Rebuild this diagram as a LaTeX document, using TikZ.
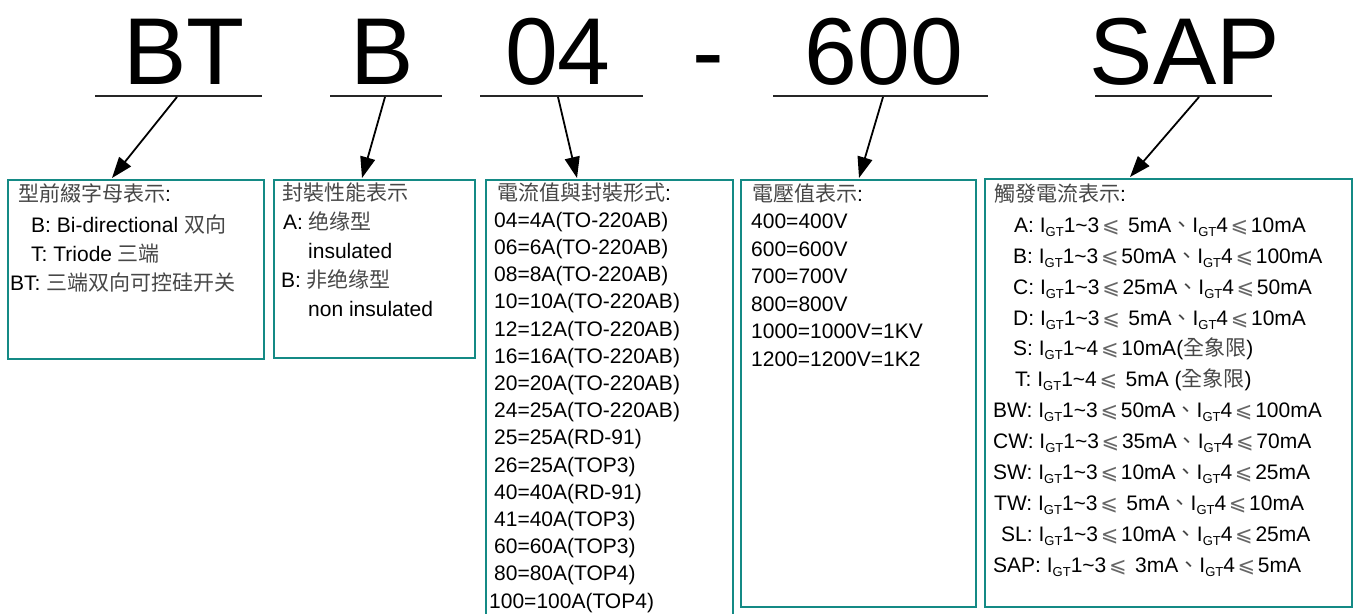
\documentclass[tikz,border=0pt]{standalone}
\usepackage{fontspec}
\setmainfont{Liberation Sans}
\newfontfamily\cjkf{Noto Sans CJK TC}
\newfontfamily\dvs{DejaVu Sans}
\usetikzlibrary{arrows.meta}
\definecolor{boxteal}{RGB}{20,138,133}
\newcommand\cjk{\cjkf\color{black!72}}
\newcommand\IGT{I\raisebox{-4.5pt}{\fontsize{13}{13}\selectfont GT}}
\newcommand\myle{\makebox[23pt]{\dvs\color{black!60}⩽}}
\newcommand\dun{{\cjk 、}}
\newcommand\tld{\textasciitilde}
\tikzset{
  txt/.style={anchor=base west, inner sep=0pt, font=\fontsize{21}{21}\selectfont},
  big/.style={anchor=base, inner sep=0pt, font=\fontsize{95}{95}\selectfont},
  box/.style={draw=boxteal, line width=2.3pt, anchor=north west, inner sep=0pt},
  uline/.style={draw=black!85, line width=2pt},
  arr/.style={draw=black, line width=1.8pt, -{Triangle[length=21pt,width=15pt]}},
}
\begin{document}
\begin{tikzpicture}[x=1pt,y=-1pt]
\useasboundingbox[fill=white] (0,0) rectangle (1356,613);

% big code letters
\node[big] (lBT) at (184,84) {BT};
\node[big] (lB) at (382,84) {B};
\node[big] (l04) at (558,84) {04};
\node[big] (ldash) at (708,84) {-};
\node[big] (l600) at (884,84) {600};
\node[big] (lSAP) at (1185,84) {SAP};

% underlines
\coordinate (u1a) at (95,96);   \coordinate (u1b) at (262,96);
\coordinate (u2a) at (330,96);  \coordinate (u2b) at (442,96);
\coordinate (u3a) at (480,96);  \coordinate (u3b) at (643,96);
\coordinate (u4a) at (773,96);  \coordinate (u4b) at (988,96);
\coordinate (u5a) at (1095,96); \coordinate (u5b) at (1272,96);
\draw[uline] (u1a) -- (u1b);
\draw[uline] (u2a) -- (u2b);
\draw[uline] (u3a) -- (u3b);
\draw[uline] (u4a) -- (u4b);
\draw[uline] (u5a) -- (u5b);

% boxes
\node[box, minimum width=256pt, minimum height=179pt] (b1) at (7,179) {};
\node[box, minimum width=201pt, minimum height=178pt] (b2) at (273,179) {};
\node[box, minimum width=247pt, minimum height=470pt] (b3) at (485,179) {};
\node[box, minimum width=235pt, minimum height=427pt] (b4) at (740,179) {};
\node[box, minimum width=367pt, minimum height=428pt] (b5) at (984,178) {};

% arrows
\coordinate (s1) at (177,97);  \coordinate (e1) at (112,178);
\coordinate (s2) at (385,97);  \coordinate (e2) at (362,178);
\coordinate (s3) at (558,97);  \coordinate (e3) at (577,178);
\coordinate (s4) at (883,97);  \coordinate (e4) at (859,178);
\coordinate (s5) at (1199,97); \coordinate (e5) at (1130,177);
\draw[arr] (s1) -- (e1);
\draw[arr] (s2) -- (e2);
\draw[arr] (s3) -- (e3);
\draw[arr] (s4) -- (e4);
\draw[arr] (s5) -- (e5);

% box 1
\node[txt] (t1a) at (18,201) {{\cjk 型前綴字母表示}:};
\node[txt] (t1b) at (31,232) {B: Bi-directional {\cjk 双向}};
\node[txt] (t1c) at (31,261) {T: Triode {\cjk 三端}};
\node[txt] (t1d) at (10,290) {BT: {\cjk 三端双向可控硅开关}};

% box 2
\node[txt] (t2a) at (282,200) {{\cjk 封裝性能表示}};
\node[txt] (t2b) at (283,229) {A: {\cjk 绝缘型}};
\node[txt] (t2c) at (308,258) {insulated};
\node[txt] (t2d) at (281,287) {B: {\cjk 非绝缘型}};
\node[txt] (t2e) at (308,316) {non insulated};

% box 3
\node[txt] (t3a) at (497,200) {{\cjk 電流值與封裝形式}:};
\node[txt] (t3b) at (494,227.2) {04=4A(TO-220AB)};
\node[txt] (t3c) at (494,254.4) {06=6A(TO-220AB)};
\node[txt] (t3d) at (494,281.6) {08=8A(TO-220AB)};
\node[txt] (t3e) at (494,308.8) {10=10A(TO-220AB)};
\node[txt] (t3f) at (494,336) {12=12A(TO-220AB)};
\node[txt] (t3g) at (494,363.2) {16=16A(TO-220AB)};
\node[txt] (t3h) at (494,390.4) {20=20A(TO-220AB)};
\node[txt] (t3i) at (494,417.6) {24=25A(TO-220AB)};
\node[txt] (t3j) at (494,444.8) {25=25A(RD-91)};
\node[txt] (t3k) at (494,472) {26=25A(TOP3)};
\node[txt] (t3l) at (494,499.2) {40=40A(RD-91)};
\node[txt] (t3m) at (494,526.4) {41=40A(TOP3)};
\node[txt] (t3n) at (494,553.6) {60=60A(TOP3)};
\node[txt] (t3o) at (494,580.8) {80=80A(TOP4)};
\node[txt] (t3p) at (489,608) {100=100A(TOP4)};

% box 4
\node[txt] (t4a) at (752,201) {{\cjk 電壓值表示}:};
\node[txt] (t4b) at (751,228) {400=400V};
\node[txt] (t4c) at (751,256) {600=600V};
\node[txt] (t4d) at (751,283) {700=700V};
\node[txt] (t4e) at (751,311) {800=800V};
\node[txt] (t4f) at (751,338) {1000=1000V=1KV};
\node[txt] (t4g) at (751,366) {1200=1200V=1K2};

% box 5
\node[txt] (t5a) at (994,201) {{\cjk 觸發電流表示}:};
\node[txt] (t5b) at (1014,232) {A: \IGT1\tld3\myle\ 5mA\dun\IGT4\myle10mA};
\node[txt] (t5c) at (1013,263) {B: \IGT1\tld3\myle50mA\dun\IGT4\myle100mA};
\node[txt] (t5d) at (1013,294) {C: \IGT1\tld3\myle25mA\dun\IGT4\myle50mA};
\node[txt] (t5e) at (1013,325) {D: \IGT1\tld3\myle\ 5mA\dun\IGT4\myle10mA};
\node[txt] (t5f) at (1013,355) {S: \IGT1\tld4\myle10mA({\cjk 全象限})};
\node[txt] (t5g) at (1015,386) {T: \IGT1\tld4\myle\ 5mA ({\cjk 全象限})};
\node[txt] (t5h) at (993,417) {BW: \IGT1\tld3\myle50mA\dun\IGT4\myle100mA};
\node[txt] (t5i) at (993,448) {CW: \IGT1\tld3\myle35mA\dun\IGT4\myle70mA};
\node[txt] (t5j) at (993,479) {SW: \IGT1\tld3\myle10mA\dun\IGT4\myle25mA};
\node[txt] (t5k) at (994,510) {TW: \IGT1\tld3\myle\ 5mA\dun\IGT4\myle10mA};
\node[txt] (t5l) at (1001,541) {SL: \IGT1\tld3\myle10mA\dun\IGT4\myle25mA};
\node[txt] (t5m) at (993,572) {SAP: \IGT1\tld3\myle\ 3mA\dun\IGT4\myle5mA};
\end{tikzpicture}
\end{document}
